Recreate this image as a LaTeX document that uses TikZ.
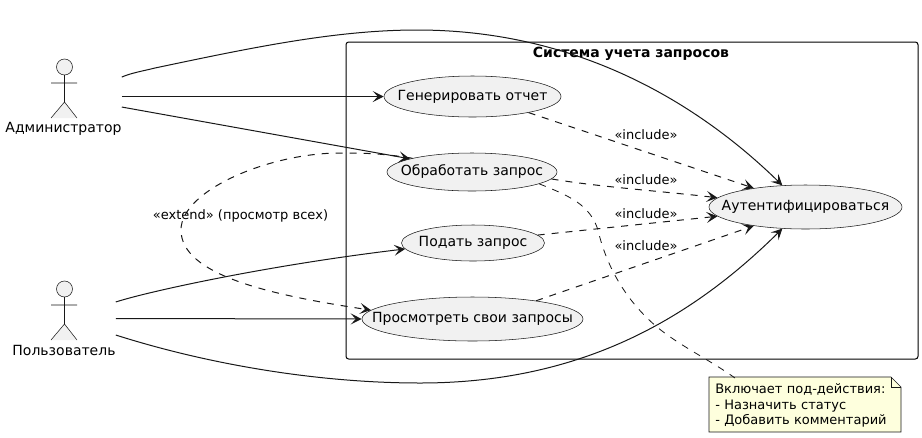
\documentclass[tikz,border=0pt]{standalone}
\usepackage{fontspec}
\setmainfont{DejaVu Sans}
\usetikzlibrary{arrows.meta,shapes.geometric}
\definecolor{ucfill}{HTML}{F1F1F1}
\definecolor{ucline}{HTML}{181818}
\definecolor{notefill}{HTML}{FEFFDD}
\newcommand{\uctext}[1]{\makebox[0pt]{\raisebox{-1.1pt}{#1}}}
\begin{document}
\begin{tikzpicture}[
        x=0.75pt, y=-0.75pt,
        usecase/.style={shape=ellipse, draw=ucline, line width=0.4pt, fill=ucfill, inner sep=0pt, font=\fontsize{10.5}{12}\selectfont},
        actorfig/.style={draw=ucline, line width=0.4pt, fill=ucfill},
        actorname/.style={inner sep=0pt, font=\fontsize{10.5}{12}\selectfont},
        link/.style={draw=ucline, line width=0.75pt, -{Stealth[length=8.25pt, width=8.25pt, inset=3.75pt]}},
        dep/.style={link, dash pattern=on 5.25pt off 5.25pt},
        noteline/.style={draw=ucline, line width=0.6pt, dash pattern=on 5.25pt off 5.25pt},
        deplabel/.style={inner sep=0pt, font=\fontsize{9.75}{12}\selectfont},
    ]
    \useasboundingbox (0, 0) rectangle (922, 437);

    \draw[black, line width=0.75pt, rounded corners=2pt] (346, 42) rectangle (918, 359);
    \node[inner sep=0pt, font=\fontsize{10.5}{12}\selectfont\bfseries] (title) at (631, 53.5) {Система учета запросов};

    \foreach \cy in {67, 289} {
        \draw[actorfig] (64.5, \cy) circle[radius=8];
        \draw[actorfig] (64.5, \cy+8) -- (64.5, \cy+35) (51, \cy+16) -- (77, \cy+16)
            (51, \cy+51) -- (64.5, \cy+35) -- (77, \cy+51);
    }
    \node[actorname] (admin) at (63.5, 128.5) {Администратор};
    \node[actorname] (user) at (64, 350.5) {Пользователь};

    \node[usecase, minimum width=132.75pt, minimum height=30.75pt] (gen) at (472.5, 96.5) {\uctext{Генерировать отчет}};
    \node[usecase, minimum width=127.5pt, minimum height=28.5pt] (obr) at (472, 172) {\uctext{Обработать запрос}};
    \node[usecase, minimum width=107.25pt, minimum height=27pt] (pod) at (473, 243) {\uctext{Подать запрос}};
    \node[usecase, minimum width=165.75pt, minimum height=33pt] (pro) at (472.5, 319) {\uctext{Просмотреть свои запросы}};
    \node[usecase, minimum width=144.75pt, minimum height=33pt] (auth) at (805.5, 207) {\uctext{Аутентифицироваться}};

    % note
    \draw[actorfig, fill=notefill] (709, 377) -- (891, 377) -- (901, 387) -- (901, 432) -- (709, 432) -- cycle;
    \draw[actorfig, fill=none] (891, 377) -- (891, 387) -- (901, 387);
    \node[deplabel, anchor=north west, align=left, minimum width=143.25pt, minimum height=41.25pt, text width=137pt, inner xsep=4.5pt, font=\fontsize{9.75}{11.6}\selectfont] (note) at (709, 378) {Включает под-действия:\\- Назначить статус\\- Добавить комментарий};

    \draw[link] ([yshift=38.6pt]admin.east) .. controls (131, 73) and (143, 71) .. (155, 68)
        .. controls (250, 48) and (335, 30) .. (417, 30)
        .. controls (580, 30) and (700, 105) .. (auth.137);
    \draw[link] ([yshift=24pt]admin.east) -- (gen.west);
    \draw[link] ([yshift=16.1pt]admin.east) -- (obr.168);

    \draw[link] ([yshift=36.4pt]user.east) .. controls (150, 291) and (270, 265) .. (pod.185);
    \draw[link] ([yshift=24pt]user.east) -- (pro.west);
    \draw[link] ([yshift=11.6pt]user.east) .. controls (210, 365) and (320, 383) .. (420, 383)
        .. controls (580, 383) and (690, 320) .. (auth.223);

    \draw[dep] (gen.-16) -- (auth.160);
    \draw[dep] (obr.-5) .. controls (600, 187) and (660, 191) .. (auth.174);
    \draw[dep] (pod.7) -- (auth.186);
    \draw[dep] (pro.16) -- (auth.200);
    \node[deplabel] (inc1) at (646, 135) {«include»};
    \node[deplabel] (inc2) at (646, 180) {«include»};
    \node[deplabel] (inc3) at (646, 214) {«include»};
    \node[deplabel] (inc4) at (646, 246) {«include»};

    \draw[dep] (obr.167) .. controls (380, 153) and (360, 153) .. (340, 153)
        .. controls (270, 153) and (181, 190) .. (181, 230)
        .. controls (181, 275) and (270, 295) .. (pro.175);
    \node[deplabel] (ext) at (240.5, 216) {«extend» (просмотр всех)};

    \draw[noteline] (obr.-10) .. controls (570, 196) and (590, 205) .. (598, 230)
        .. controls (606, 265) and (625, 300) .. (657, 327)
        .. controls (680, 346) and (710, 360) .. ([xshift=19.5pt]note.north west);
\end{tikzpicture}
\end{document}
